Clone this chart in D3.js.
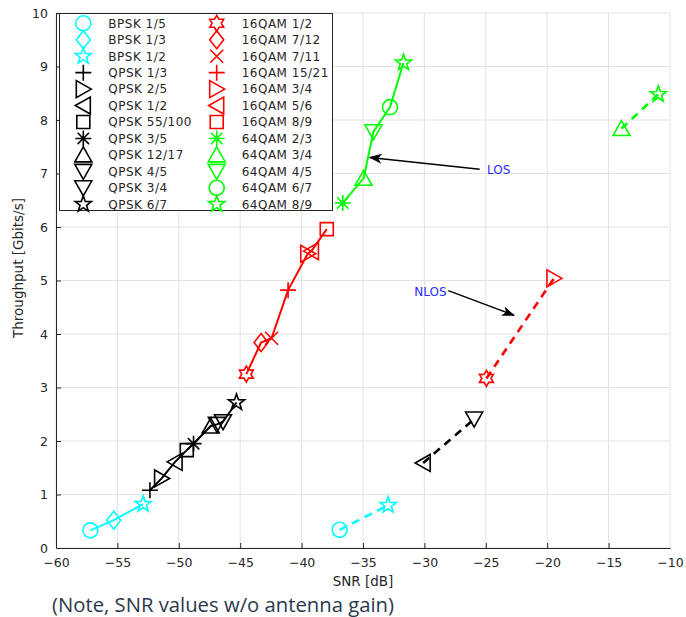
<!DOCTYPE html>
<html>
<head>
<meta charset="utf-8">
<script src="https://cdn.jsdelivr.net/npm/d3@7"></script>
<style>
  body { margin: 0; background: #fff; }
  svg text { font-family: "DejaVu Sans", sans-serif; fill: #262626; }
</style>
</head>
<body>
<svg id="chart" width="686" height="617"></svg>
<script>
// LOS points, one per MCS (these are also the legend entries)
var losLabels = ["BPSK 1/5","BPSK 1/3","BPSK 1/2",
  "QPSK 1/3","QPSK 2/5","QPSK 1/2","QPSK 55/100","QPSK 3/5","QPSK 12/17","QPSK 4/5","QPSK 3/4","QPSK 6/7",
  "16QAM 1/2","16QAM 7/12","16QAM 7/11","16QAM 15/21","16QAM 3/4","16QAM 5/6","16QAM 8/9",
  "64QAM 2/3","64QAM 3/4","64QAM 4/5","64QAM 6/7","64QAM 8/9"];
var losSnr = [-57.2,-55.3,-52.9,
  -52.35,-51.4,-50.3,-49.35,-48.8,-47.4,-46.4,-46.9,-45.3,
  -44.5,-43.3,-42.45,-41.1,-39.5,-39.2,-37.95,
  -36.65,-34.95,-34.15,-32.8,-31.7];
var losTp = [0.33,0.52,0.82,
  1.08,1.30,1.61,1.83,1.95,2.28,2.36,2.31,2.72,
  3.25,3.84,3.92,4.82,5.50,5.55,5.96,
  6.45,6.91,7.78,8.24,9.07];

// NLOS points
var nlosLabels = ["BPSK 1/5","BPSK 1/2","QPSK 1/2","QPSK 3/4","16QAM 1/2","16QAM 3/4","64QAM 3/4","64QAM 8/9"];
var nlosSnr = [-36.9,-32.95,-30.1,-25.95,-24.95,-19.45,-13.95,-10.95];
var nlosTp = [0.34,0.80,1.59,2.41,3.17,5.04,7.84,8.48];

var modulations = ["BPSK","QPSK","16QAM","64QAM"];
var xTicks = [-60,-55,-50,-45,-40,-35,-30,-25,-20,-15,-10];
var yTicks = [0,1,2,3,4,5,6,7,8,9,10];

// annotations, in data units
var losNote = {text:"LOS", tx:-24.9, ty:7.07, from:[-25.5,7.08], to:[-34.45,7.30]};
var nlosNote = {text:"NLOS", tx:-28.2, ty:4.79, from:[-28.05,4.81], to:[-22.7,4.35]};

// styles
var colors = {"BPSK":"#00ffff","QPSK":"#000000","16QAM":"#ff0000","64QAM":"#00ff00"};
var markerOf = {
  "BPSK 1/5":"o","BPSK 1/3":"d","BPSK 1/2":"p",
  "QPSK 1/3":"+","QPSK 2/5":">","QPSK 1/2":"<","QPSK 55/100":"s","QPSK 3/5":"*",
  "QPSK 12/17":"^","QPSK 4/5":"v","QPSK 3/4":"v","QPSK 6/7":"p",
  "16QAM 1/2":"h","16QAM 7/12":"d","16QAM 7/11":"x","16QAM 15/21":"+",
  "16QAM 3/4":">","16QAM 5/6":"<","16QAM 8/9":"s",
  "64QAM 2/3":"*","64QAM 3/4":"^","64QAM 4/5":"v","64QAM 6/7":"o","64QAM 8/9":"p"
};

function star(n, ro, ri){
  var pts = [];
  for(var i=0;i<2*n;i++){
    var r = i%2 ? ri : ro;
    var a = -Math.PI/2 + i*Math.PI/n;
    pts.push([r*Math.cos(a), r*Math.sin(a)]);
  }
  return "M" + pts.map(function(p){return p[0].toFixed(2)+","+p[1].toFixed(2);}).join("L") + "Z";
}

function markerPath(t){
  switch(t){
    case "o": var p = d3.path(); p.arc(0,0,7.5,0,2*Math.PI); p.closePath(); return p.toString();
    case "d": return "M0,-9L7,0L0,9L-7,0Z";
    case "p": return star(5, 8.5, 3.4);
    case "h": return star(6, 8, 4.6);
    case "+": return "M-8,0H8M0,-8V8";
    case "x": return "M-6.5,-6.5L6.5,6.5M-6.5,6.5L6.5,-6.5";
    case "*": return "M-8,0H8M0,-8V8M-5.7,-5.7L5.7,5.7M-5.7,5.7L5.7,-5.7";
    case "s": return "M-6.5,-6.5H6.5V6.5H-6.5Z";
    case "^": return "M0,-8L8.5,7L-8.5,7Z";
    case "v": return "M0,8L8.5,-7L-8.5,-7Z";
    case ">": return "M8,0L-7,-8.5L-7,8.5Z";
    case "<": return "M-8,0L7,-8.5L7,8.5Z";
  }
}

function modOf(label){ return label.split(" ")[0]; }

var svg = d3.select("#chart");
var x = d3.scaleLinear().domain([-60,-10]).range([56,670]);
var y = d3.scaleLinear().domain([0,10]).range([548,13]);

// grid
svg.append("g").selectAll("line").data(xTicks).join("line")
  .attr("x1", function(d){return x(d);}).attr("x2", function(d){return x(d);})
  .attr("y1", y(0)).attr("y2", y(10))
  .attr("stroke", "#e3e3e3").attr("stroke-width", 1);
svg.append("g").selectAll("line").data(yTicks).join("line")
  .attr("y1", function(d){return y(d);}).attr("y2", function(d){return y(d);})
  .attr("x1", x(-60)).attr("x2", x(-10))
  .attr("stroke", "#e3e3e3").attr("stroke-width", 1);

// axes
var xAxis = svg.append("g").attr("transform", "translate(0," + y(0) + ")")
  .call(d3.axisBottom(x).tickValues(xTicks).tickSizeInner(-5).tickSizeOuter(0).tickPadding(10));
var yAxis = svg.append("g").attr("transform", "translate(" + x(-60) + ",0)")
  .call(d3.axisLeft(y).tickValues(yTicks).tickSizeInner(-5).tickSizeOuter(0).tickPadding(8));
[xAxis, yAxis].forEach(function(a){
  a.select(".domain").attr("stroke", "#262626").attr("stroke-width", 1);
  a.selectAll(".tick line").attr("stroke", "#262626");
  a.selectAll("text").style("font-size", "12.5px").attr("fill", "#262626");
});
xAxis.selectAll(".tick:first-of-type line, .tick:last-of-type line").remove();
yAxis.selectAll(".tick:first-of-type line").remove();

svg.append("text").attr("x", x(-35)).attr("y", 586).attr("text-anchor", "middle")
  .style("font-size", "13.5px").text("SNR [dB]");
svg.append("text").attr("transform", "translate(23,268) rotate(-90)").attr("text-anchor", "middle")
  .style("font-size", "13.5px").text("Throughput [Gbits/s]");
svg.append("text").attr("x", 52).attr("y", 612)
  .attr("textLength", 342).attr("lengthAdjust", "spacingAndGlyphs")
  .style("font-family", "'Open Sans', sans-serif").style("font-size", "19.5px").style("fill", "#2b384c")
  .text("(Note, SNR values w/o antenna gain)");

function buildPoints(labels, snr, tp){
  return labels.map(function(l,i){ return {label:l, mod:modOf(l), snr:snr[i], tp:tp[i]}; });
}
var losPts = buildPoints(losLabels, losSnr, losTp);
var nlosPts = buildPoints(nlosLabels, nlosSnr, nlosTp);

var line = d3.line().x(function(d){return x(d.snr);}).y(function(d){return y(d.tp);});

function drawSet(pts, dashed){
  modulations.forEach(function(m){
    var sub = pts.filter(function(d){return d.mod===m;})
      .sort(function(a,b){return a.snr-b.snr;});
    svg.append("path").datum(sub).attr("d", line)
      .attr("fill", "none").attr("stroke", colors[m])
      .attr("stroke-width", dashed ? 2.6 : 2)
      .attr("stroke-dasharray", dashed ? "8,6" : null);
  });
  svg.append("g").selectAll("path").data(pts).join("path")
    .attr("d", function(d){return markerPath(markerOf[d.label]);})
    .attr("transform", function(d){return "translate(" + x(d.snr) + "," + y(d.tp) + ")";})
    .attr("fill", "none").attr("stroke", function(d){return colors[d.mod];})
    .attr("stroke-width", 1.6);
}
drawSet(losPts, false);
drawSet(nlosPts, true);

// arrows
svg.append("defs").append("marker").attr("id", "head")
  .attr("viewBox", "0 0 13 10").attr("refX", 12).attr("refY", 5)
  .attr("markerWidth", 13).attr("markerHeight", 10).attr("markerUnits", "userSpaceOnUse")
  .attr("orient", "auto")
  .append("path").attr("d", "M0,0L13,5L0,10L3.5,5Z").attr("fill", "#000");

[losNote, nlosNote].forEach(function(n, i){
  svg.append("line")
    .attr("x1", x(n.from[0])).attr("y1", y(n.from[1]))
    .attr("x2", x(n.to[0])).attr("y2", y(n.to[1]))
    .attr("stroke", "#000").attr("stroke-width", 1.5).attr("marker-end", "url(#head)");
  svg.append("text").attr("x", x(n.tx)).attr("y", y(n.ty)).attr("dy", "0.35em")
    .attr("text-anchor", i === 0 ? "start" : "end")
    .style("font-size", "12px").style("fill", "#2b2bff").text(n.text);
});

// legend
var legend = svg.append("g");
legend.append("rect").attr("x", 59.5).attr("y", 13.5).attr("width", 273).attr("height", 197)
  .attr("fill", "#fff").attr("stroke", "#262626").attr("stroke-width", 1);
var rowH = 16.45;
var item = legend.selectAll("g.item").data(losPts).join("g").attr("class", "item")
  .attr("transform", function(d,i){
    var col = i < 12 ? 0 : 1, row = i % 12;
    return "translate(" + (col ? 216.7 : 83.3) + "," + (23.3 + row*rowH) + ")";
  });
item.append("path").attr("d", function(d){return markerPath(markerOf[d.label]);})
  .attr("fill", "none").attr("stroke", function(d){return colors[d.mod];}).attr("stroke-width", 1.6);
item.append("text").attr("x", 25).attr("dy", "0.36em")
  .style("font-size", "12px").style("letter-spacing", "0.5px").text(function(d){return d.label;});
</script>
</body>
</html>
